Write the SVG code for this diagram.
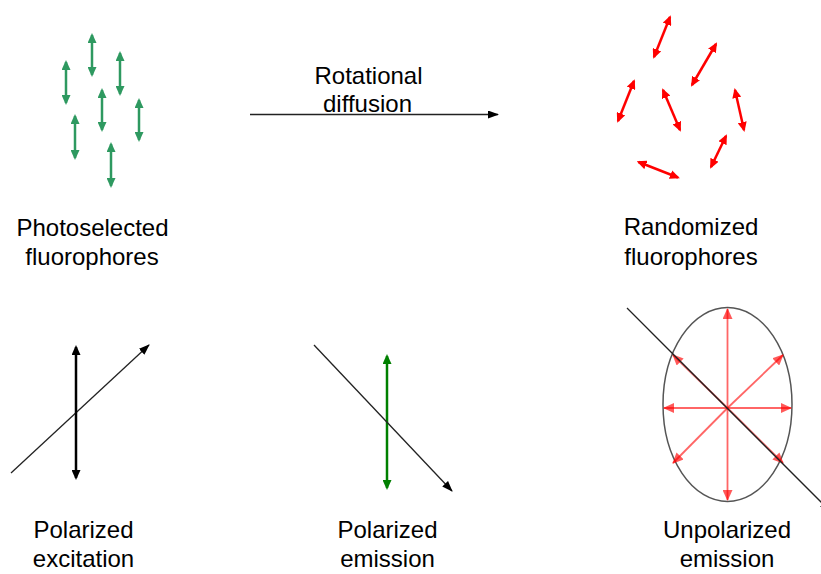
<svg xmlns="http://www.w3.org/2000/svg" width="821" height="574" viewBox="0 0 821 574">
<defs>
<style>
text{font-family:"Liberation Sans",Arial,sans-serif;font-size:24px;fill:#000;text-anchor:middle}
.g{stroke:#2e9960;stroke-width:2.5;fill:none}
.r{stroke:#ff0000;stroke-width:2.5;fill:none}
.thin{stroke:#222;stroke-width:1.3;fill:none}
.lr{stroke:#ff0000;stroke-opacity:0.6;stroke-width:1.8;fill:none}
</style>
<marker id="mg" markerUnits="userSpaceOnUse" markerWidth="10" markerHeight="9" refX="8" refY="4.5" orient="auto-start-reverse"><path d="M0,0 L10,4.5 L0,9 z" fill="#2e9960"/></marker>
<marker id="mr" markerUnits="userSpaceOnUse" markerWidth="10" markerHeight="9" refX="8" refY="4.5" orient="auto-start-reverse"><path d="M0,0 L10,4.5 L0,9 z" fill="#ff0000"/></marker>
<marker id="mk" markerUnits="userSpaceOnUse" markerWidth="10" markerHeight="9" refX="8" refY="4.5" orient="auto-start-reverse"><path d="M0,0 L10,4.5 L0,9 z" fill="#000"/></marker>
<marker id="mdg" markerUnits="userSpaceOnUse" markerWidth="10" markerHeight="9" refX="8" refY="4.5" orient="auto-start-reverse"><path d="M0,0 L10,4.5 L0,9 z" fill="#008000"/></marker>
<marker id="mt" markerUnits="userSpaceOnUse" markerWidth="11" markerHeight="8" refX="10" refY="4" orient="auto"><path d="M0,0 L11,4 L0,8 z" fill="#000"/></marker>
<marker id="ml" markerUnits="userSpaceOnUse" markerWidth="11" markerHeight="10" refX="10" refY="5" orient="auto"><path d="M0,0 L11,5 L0,10 z" fill="#ff0000" fill-opacity="0.65"/></marker>
</defs>
<rect width="821" height="574" fill="#fff"/>

<g id="photoselected">
<line class="g" x1="92" y1="35" x2="92" y2="75" marker-start="url(#mg)" marker-end="url(#mg)"/>
<line class="g" x1="120" y1="53" x2="120" y2="94" marker-start="url(#mg)" marker-end="url(#mg)"/>
<line class="g" x1="66" y1="62" x2="66" y2="103" marker-start="url(#mg)" marker-end="url(#mg)"/>
<line class="g" x1="102" y1="90" x2="102" y2="130" marker-start="url(#mg)" marker-end="url(#mg)"/>
<line class="g" x1="139" y1="100" x2="139" y2="140" marker-start="url(#mg)" marker-end="url(#mg)"/>
<line class="g" x1="75" y1="116" x2="75" y2="158" marker-start="url(#mg)" marker-end="url(#mg)"/>
<line class="g" x1="111" y1="144" x2="111" y2="186" marker-start="url(#mg)" marker-end="url(#mg)"/>
<text x="92.5" y="236">Photoselected</text>
<text x="92" y="265">fluorophores</text>
</g>

<g id="randomized">
<line class="r" x1="670" y1="17" x2="654" y2="57" marker-start="url(#mr)" marker-end="url(#mr)"/>
<line class="r" x1="716" y1="44" x2="692" y2="85" marker-start="url(#mr)" marker-end="url(#mr)"/>
<line class="r" x1="634" y1="81" x2="618" y2="121" marker-start="url(#mr)" marker-end="url(#mr)"/>
<line class="r" x1="663" y1="90" x2="680" y2="130" marker-start="url(#mr)" marker-end="url(#mr)"/>
<line class="r" x1="735" y1="90" x2="744" y2="130" marker-start="url(#mr)" marker-end="url(#mr)"/>
<line class="r" x1="726" y1="136" x2="711" y2="167" marker-start="url(#mr)" marker-end="url(#mr)"/>
<line class="r" x1="638.5" y1="162" x2="678" y2="177.5" marker-start="url(#mr)" marker-end="url(#mr)"/>
<text x="691" y="235">Randomized</text>
<text x="691" y="265">fluorophores</text>
</g>

<g id="rotational-diffusion">
<text x="368.5" y="84">Rotational</text>
<text x="367.5" y="112">diffusion</text>
</g>

<g id="polarized-excitation">
<line x1="11" y1="473" x2="149" y2="345" class="thin" marker-end="url(#mt)"/>
<line x1="76" y1="347" x2="76" y2="478" stroke="#000" stroke-width="2.5" marker-start="url(#mk)" marker-end="url(#mk)"/>
<text x="83.5" y="538">Polarized</text>
<text x="83.5" y="567">excitation</text>
</g>

<g id="polarized-emission">
<line x1="387" y1="356" x2="387" y2="488" stroke="#008000" stroke-width="2.5" marker-start="url(#mdg)" marker-end="url(#mdg)"/>
<line x1="314" y1="345" x2="452" y2="491" class="thin" marker-end="url(#mt)"/>
<text x="387.5" y="538">Polarized</text>
<text x="387.5" y="567">emission</text>
</g>

<g id="unpolarized-emission">
<ellipse cx="727.5" cy="404.5" rx="64.5" ry="97" fill="none" stroke="#555" stroke-width="1.5"/>
<line class="lr" x1="727.5" y1="408" x2="727.5" y2="309" marker-end="url(#ml)"/>
<line class="lr" x1="727.5" y1="408" x2="727.5" y2="500" marker-end="url(#ml)"/>
<line class="lr" x1="727.5" y1="408" x2="664" y2="408" marker-end="url(#ml)"/>
<line class="lr" x1="727.5" y1="408" x2="791" y2="408" marker-end="url(#ml)"/>
<line class="lr" x1="727.5" y1="408" x2="673" y2="355" marker-end="url(#ml)"/>
<line class="lr" x1="727.5" y1="408" x2="783" y2="355" marker-end="url(#ml)"/>
<line class="lr" x1="727.5" y1="408" x2="673" y2="463" marker-end="url(#ml)"/>
<line class="lr" x1="727.5" y1="408" x2="783" y2="463" marker-end="url(#ml)"/>
<line x1="627" y1="308" x2="830" y2="511" class="thin" marker-end="url(#mt)"/>
<text x="727" y="538">Unpolarized</text>
<text x="727" y="567">emission</text>
</g>

<g id="connectors">
<line x1="250" y1="114.5" x2="498" y2="114.5" class="thin" marker-end="url(#mt)"/>
</g>
</svg>
